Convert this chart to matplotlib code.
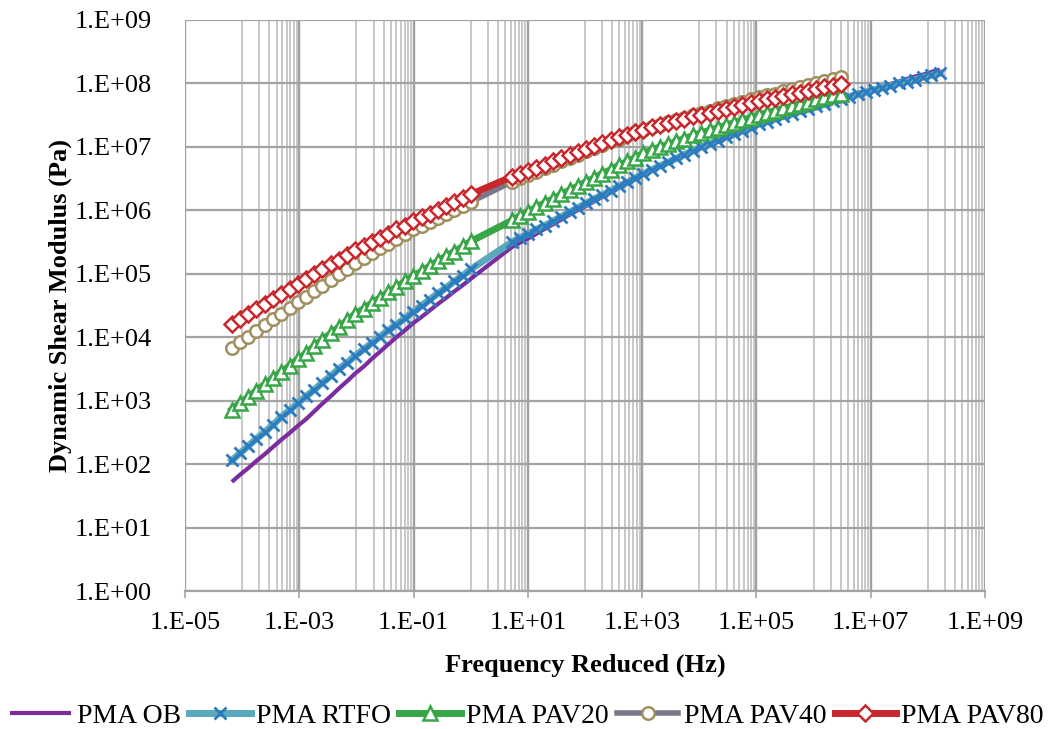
import numpy as np
import matplotlib
matplotlib.use("Agg")
import matplotlib.pyplot as plt
from matplotlib.ticker import FuncFormatter, FixedLocator, NullFormatter

plt.rcParams['font.family'] = ['Liberation Serif', 'DejaVu Serif']

# Reduced frequency grid (log10 Hz): low-temperature sweep and high-frequency branch
log_freq_low = [-4.18, -4.04, -3.89, -3.75, -3.60, -3.46, -3.32, -3.17, -3.03, -2.88,
                -2.74, -2.60, -2.45, -2.31, -2.16, -2.02, -1.87, -1.73, -1.59, -1.44,
                -1.30, -1.15, -1.01, -0.86, -0.72, -0.58, -0.43, -0.29, -0.14, 0.00]
log_freq_high = [0.72, 0.86, 1.01, 1.15, 1.30, 1.44, 1.58, 1.73, 1.87, 2.02,
                 2.16, 2.30, 2.45, 2.59, 2.74, 2.88, 3.02, 3.17, 3.31, 3.46,
                 3.60, 3.74, 3.89, 4.03, 4.18, 4.32, 4.46, 4.61, 4.75, 4.90,
                 5.04, 5.18, 5.33, 5.47, 5.62, 5.76, 5.90, 6.05, 6.19, 6.34,
                 6.48, 6.62, 6.77, 6.91, 7.06, 7.20, 7.34, 7.49, 7.63, 7.78,
                 7.92, 8.06, 8.21]

# log10 of |G*| (Pa) for each ageing state
ob_low = [1.72, 1.83, 1.94, 2.05, 2.16, 2.27, 2.38, 2.49, 2.60, 2.71, 2.83, 2.95, 3.07, 3.19, 3.31,
          3.43, 3.54, 3.66, 3.77, 3.89, 4.00, 4.11, 4.22, 4.32, 4.42, 4.52, 4.62, 4.72, 4.82, 4.92]
ob_high = [5.42, 5.49, 5.56, 5.63, 5.71, 5.78, 5.85, 5.93, 6.00, 6.07, 6.14, 6.21, 6.28, 6.35, 6.42,
           6.49, 6.56, 6.62, 6.69, 6.75, 6.81, 6.87, 6.94, 7.00, 7.05, 7.10, 7.15, 7.21, 7.26, 7.31,
           7.36, 7.40, 7.44, 7.48, 7.53, 7.57, 7.61, 7.65, 7.69, 7.73, 7.77, 7.81, 7.85, 7.88, 7.92,
           7.95, 7.99, 8.03, 8.07, 8.11, 8.14, 8.18, 8.22]

rtfo_low = [2.06, 2.17, 2.29, 2.40, 2.51, 2.62, 2.74, 2.85, 2.96, 3.07, 3.17, 3.28, 3.39, 3.50, 3.60,
            3.71, 3.81, 3.91, 4.01, 4.11, 4.20, 4.30, 4.40, 4.50, 4.59, 4.69, 4.78, 4.88, 4.97, 5.07]
rtfo_high = [5.50, 5.57, 5.63, 5.70, 5.76, 5.83, 5.90, 5.97, 6.04, 6.11, 6.18, 6.24, 6.31, 6.38, 6.44,
             6.51, 6.58, 6.64, 6.70, 6.76, 6.82, 6.88, 6.94, 7.00, 7.05, 7.10, 7.15, 7.20, 7.25, 7.30,
             7.36, 7.40, 7.44, 7.48, 7.52, 7.56, 7.60, 7.64, 7.68, 7.72, 7.75, 7.79, 7.83, 7.86, 7.90,
             7.93, 7.96, 8.00, 8.03, 8.06, 8.10, 8.13, 8.16]

pav20_low = [2.86, 2.96, 3.06, 3.16, 3.26, 3.36, 3.45, 3.55, 3.65, 3.75, 3.86, 3.96, 4.06, 4.16, 4.27,
             4.37, 4.45, 4.54, 4.62, 4.71, 4.79, 4.88, 4.96, 5.04, 5.12, 5.20, 5.28, 5.35, 5.43, 5.51]
pav20_high = [5.84, 5.91, 5.98, 6.05, 6.12, 6.18, 6.25, 6.32, 6.38, 6.45, 6.51, 6.58, 6.64, 6.71,
              6.77, 6.83, 6.90, 6.95, 7.00, 7.04, 7.09, 7.13, 7.18, 7.22, 7.26, 7.30, 7.34, 7.38,
              7.42, 7.46, 7.50, 7.54, 7.57, 7.61, 7.64, 7.68, 7.71, 7.75, 7.78, 7.81, 7.84]

pav40_low = [3.83, 3.92, 4.01, 4.10, 4.19, 4.28, 4.37, 4.46, 4.55, 4.64, 4.73, 4.81, 4.90, 4.99, 5.08,
             5.17, 5.25, 5.32, 5.40, 5.47, 5.55, 5.62, 5.70, 5.76, 5.82, 5.88, 5.94, 6.01, 6.07, 6.13]
pav40_high = [6.45, 6.51, 6.55, 6.60, 6.66, 6.71, 6.77, 6.82, 6.88, 6.93, 6.99, 7.03, 7.09, 7.13,
              7.18, 7.23, 7.27, 7.31, 7.35, 7.39, 7.43, 7.46, 7.50, 7.54, 7.57, 7.61, 7.64, 7.68,
              7.71, 7.75, 7.78, 7.82, 7.84, 7.88, 7.91, 7.94, 7.97, 8.01, 8.04, 8.07, 8.10]

pav80_low = [4.21, 4.29, 4.37, 4.45, 4.53, 4.60, 4.68, 4.76, 4.84, 4.92, 4.99, 5.07, 5.15, 5.22, 5.30,
             5.37, 5.44, 5.50, 5.57, 5.63, 5.70, 5.76, 5.83, 5.89, 5.95, 6.01, 6.07, 6.13, 6.19, 6.25]
pav80_high = [6.53, 6.58, 6.62, 6.67, 6.72, 6.77, 6.82, 6.87, 6.92, 6.97, 7.02, 7.06, 7.11, 7.15,
              7.19, 7.24, 7.27, 7.31, 7.34, 7.38, 7.41, 7.44, 7.48, 7.51, 7.54, 7.57, 7.60, 7.63,
              7.66, 7.69, 7.72, 7.75, 7.77, 7.80, 7.83, 7.85, 7.88, 7.91, 7.94, 7.96, 7.99]

labels = ["PMA OB", "PMA RTFO", "PMA PAV20", "PMA PAV40", "PMA PAV80"]

# x axis uses a base-100 major unit: labels every two decades,
# minor lines at 1..9 times the intermediate decade
x_major_exp = list(range(-5, 10, 2))
y_major_exp = list(range(0, 10))


def series(low, high):
    lf = np.array(log_freq_low + log_freq_high[:len(high)])
    lg = np.array(low + high)
    return 10 ** lf, 10 ** lg


fig = plt.figure(figsize=(10.54, 7.29), dpi=100)
ax = fig.add_axes([185 / 1054, 1 - 591 / 729, 800 / 1054, 571 / 729])
ax.set_xscale('log')
ax.set_yscale('log')
ax.set_xlim(1e-5, 1e9)
ax.set_ylim(1e0, 1e9)

ax.set_axisbelow(True)
major_x = [10.0 ** e for e in x_major_exp]
minor_x = [j * 10.0 ** (e + 1) for e in x_major_exp[:-1] for j in range(1, 10)]
ax.xaxis.set_major_locator(FixedLocator(major_x))
ax.xaxis.set_minor_locator(FixedLocator(minor_x))
ax.xaxis.set_minor_formatter(NullFormatter())
ax.yaxis.set_major_locator(FixedLocator([10.0 ** e for e in y_major_exp]))
ax.yaxis.set_minor_locator(FixedLocator([]))
ax.grid(which='minor', axis='x', color='#c4c4c4', lw=1.3)
ax.grid(which='major', axis='x', color='#a0a0a0', lw=1.7)
ax.grid(which='major', axis='y', color='#a3a3a3', lw=1.6)

for s in ax.spines.values():
    s.set_visible(False)
ax.spines['bottom'].set_visible(True)
ax.spines['bottom'].set_color('#a3a3a3')
ax.spines['bottom'].set_linewidth(1.6)

fmt = FuncFormatter(lambda v, p: "1.E{:+03d}".format(int(round(np.log10(v)))))
ax.xaxis.set_major_formatter(fmt)
ax.yaxis.set_major_formatter(fmt)
ax.tick_params(axis='x', which='major', length=5, width=1.2, color='#a3a3a3',
               labelsize=19, pad=10)
ax.tick_params(axis='x', which='minor', length=0)
ax.tick_params(axis='y', which='both', length=0, labelsize=19, pad=24)

x, y = series(ob_low, ob_high)
ax.plot(x, y, color='#7b2d9f', lw=3, solid_capstyle='butt', label=labels[0])

x, y = series(rtfo_low, rtfo_high)
ax.plot(x, y, color='#5aa9bd', lw=5, marker='x', ms=8, mew=2, mec='#2c7bbf',
        label=labels[1])

x, y = series(pav20_low, pav20_high)
ax.plot(x, y, color='#37a647', lw=5, marker='^', ms=9.5, mew=1.8, mec='#37a647',
        mfc='white', label=labels[2])

x, y = series(pav40_low, pav40_high)
ax.plot(x, y, color='#7a7888', lw=4, marker='o', ms=9, mew=1.8, mec='#a09060',
        mfc='white', label=labels[3])

x, y = series(pav80_low, pav80_high)
ax.plot(x, y, color='#c8282d', lw=5, marker='D', ms=8.5, mew=1.8, mec='#c8282d',
        mfc='white', label=labels[4])

ax.set_xlabel("Frequency Reduced (Hz)", fontsize=19, fontweight='bold', labelpad=14)
ax.set_ylabel("Dynamic Shear Modulus (Pa)", fontsize=19, fontweight='bold', labelpad=2)

fig.legend(loc='center', bbox_to_anchor=(0.5, 1 - 716 / 729), ncol=5, frameon=False,
           fontsize=20, numpoints=1, handlelength=2.2, handletextpad=0.2,
           columnspacing=0.3, borderpad=0)

fig.savefig("out.png", dpi=100)
